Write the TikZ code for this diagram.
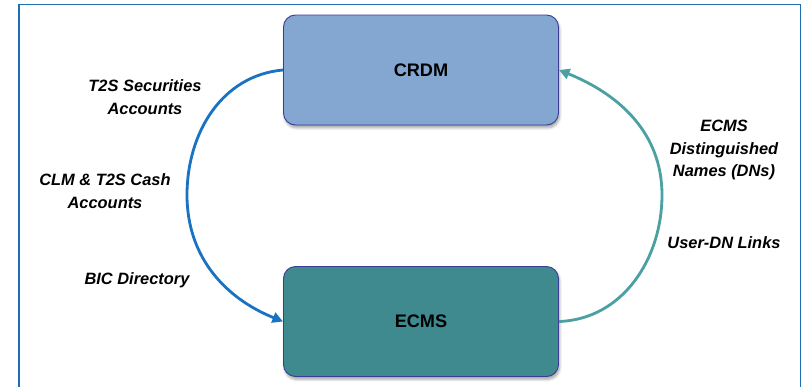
\documentclass[tikz,border=0pt]{standalone}
\usepackage{fontspec}
\setmainfont{Liberation Sans}
\usetikzlibrary{arrows.meta,shadows.blur}

\definecolor{framecol}{HTML}{1F6EB2}
\definecolor{crdmfill}{HTML}{84A7D1}
\definecolor{ecmsfill}{HTML}{3E8A8F}
\definecolor{boxline}{HTML}{3C3C96}
\definecolor{leftflow}{HTML}{1A72C2}
\definecolor{rightflow}{HTML}{4AA0A3}

\tikzset{
  sysbox/.style={draw=boxline, line width=0.8pt, rounded corners=0.36cm,
    minimum width=8.25cm, minimum height=3.3cm,
    font=\bfseries\fontsize{15.5}{18}\selectfont,
    blur shadow={shadow xshift=1pt, shadow yshift=-2.5pt, shadow blur steps=6, shadow opacity=35}},
  flowlabel/.style={align=center, font=\bfseries\itshape\fontsize{14}{19.5}\selectfont},
  flowarrow/.style={line width=2.4pt, -{Triangle[length=9pt,width=9pt]}}
}

\begin{document}
\begin{tikzpicture}[x=0.03cm,y=-0.03cm]
    \useasboundingbox (0,0) rectangle (804,386);

    % frame
    \draw[framecol, line width=1.6pt] (19,395) -- (19,4.5) -- (800.5,4.5) -- (800.5,395);

    % the two systems
    \node[sysbox, fill=crdmfill] (crdm) at (421,70) {CRDM};
    \node[sysbox, fill=ecmsfill] (ecms) at (421,321.5) {ECMS};

    \coordinate (lmid) at (187,195);
    \coordinate (rmid) at (662,195);

    % flows
    \draw[flowarrow, leftflow] (crdm.west) to[out=185, in=90] (lmid) to[out=-90, in=158] (ecms.west);
    \draw[flowarrow, rightflow] (ecms.east) to[out=2, in=-90] (rmid) to[out=90, in=-22] (crdm.east);

    \node[flowlabel] (secacc) at (145,97) {T2S Securities\\Accounts};
    \node[flowlabel] (cashacc) at (105,191) {CLM \& T2S Cash\\Accounts};
    \node[flowlabel] (bicdir) at (137,280) {BIC Directory};

    \node[flowlabel] (dns) at (724,150) {ECMS\\Distinguished\\Names (DNs)};
    \node[flowlabel] (dnlinks) at (724,243) {User-DN Links};
\end{tikzpicture}
\end{document}
